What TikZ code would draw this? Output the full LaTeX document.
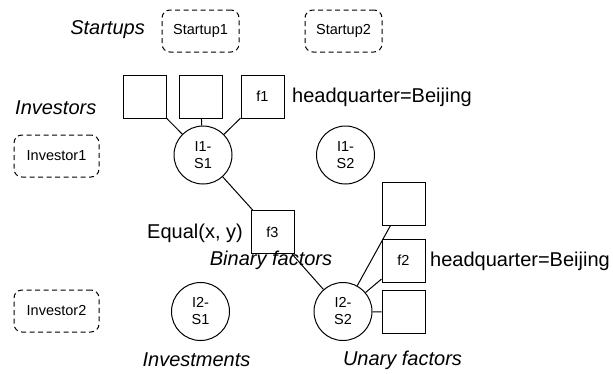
\documentclass[tikz,border=0pt]{standalone}
\usepackage{fontspec}
\setmainfont{Liberation Sans}
\usetikzlibrary{calc}
\begin{document}
\begin{tikzpicture}[x=1pt,y=-1pt,
  every node/.style={font=\fontsize{14.5}{17}\selectfont},
  entity/.style={draw, dash pattern=on 5pt off 3.5pt, rounded corners=8pt, line width=1pt,
    minimum height=42pt, inner sep=0pt},
  var/.style={draw, circle, line width=1pt, minimum size=58pt, inner sep=0pt, align=center},
  fac/.style={draw, rectangle, line width=1pt, minimum size=43pt, inner sep=0pt},
  lbl/.style={inner sep=0pt, font=\fontsize{20}{24}\selectfont},
  ilbl/.style={lbl, font=\fontsize{20}{24}\selectfont\itshape},
  edge/.style={line width=1pt}]
\useasboundingbox (0,0) rectangle (613,373);

% entities
\node[entity, minimum width=77pt] (st1) at (200.5,31) {Startup1};
\node[entity, minimum width=77pt] (st2) at (343.5,31) {Startup2};
\node[entity, minimum width=85pt] (inv1) at (56.5,156) {Investor1};
\node[entity, minimum width=85pt] (inv2) at (56.5,311) {Investor2};

% unary factors of I1-S1
\node[fac] (sq1) at (145,96.5) {};
\node[fac] (sq2) at (200.5,96.5) {};
\node[fac] (f1) at (262.5,96.5) {f1};

% investment variables
\node[var] (c11) at (203,155) {I1-\\S1};
\node[var] (c12) at (345.5,155) {I1-\\S2};
\node[var] (c21) at (200.5,311.5) {I2-\\S1};
\node[var] (c22) at (343,311.5) {I2-\\S2};

% binary factor
\node[fac] (f3) at (272.5,232) {f3};

% unary factors of I2-S2
\node[fac] (ua) at (403.5,203.5) {};
\node[fac] (f2) at (403.5,260.5) {f2};
\node[fac] (ub) at (403.5,312) {};

% labels
\node[ilbl, anchor=east] (tst) at (145,30) {Startups};
\node[ilbl, anchor=west] (tinv) at (15,108) {Investors};
\node[lbl, anchor=west] (hq1) at (292,97) {headquarter=Beijing};
\node[lbl, anchor=east] (eq) at (243,233) {Equal(x, y)};
\node[ilbl] (tbin) at (271,260) {Binary factors};
\node[lbl, anchor=west] (hq2) at (430,261) {headquarter=Beijing};
\node[ilbl] (tinvest) at (196.5,360) {Investments};
\node[ilbl] (tuna) at (402.5,360) {Unary factors};

% connectors
\draw[edge] (c11) -- (sq1);
\draw[edge] (c11) -- (sq2);
\draw[edge] (c11) -- (f1);
\draw[edge] (c11) -- (f3);
\draw[edge] (f3) -- (c22);
\draw[edge] (c22) -- ($(ua.south west)+(9,0)$);
\draw[edge] (c22) -- (f2);
\draw[edge] (c22) -- (ub);
\end{tikzpicture}
\end{document}
